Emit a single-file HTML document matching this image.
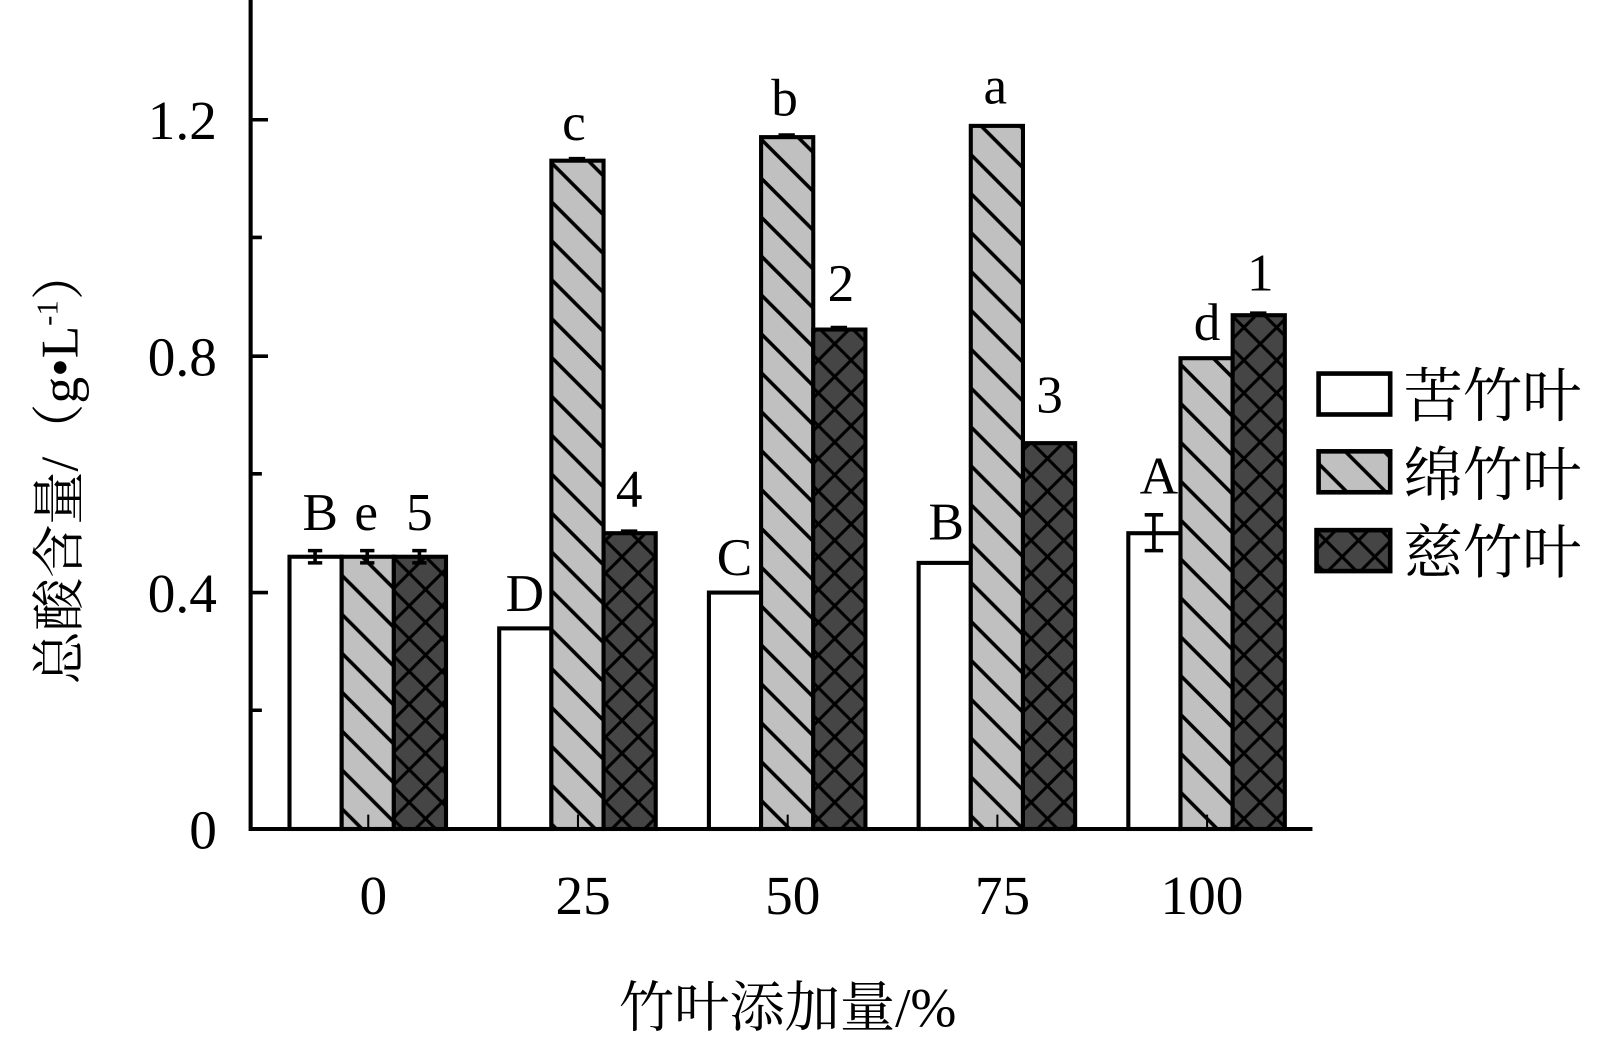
<!DOCTYPE html>
<html><head><meta charset="utf-8"><style>html,body{margin:0;padding:0;background:#fff}svg{display:block}</style></head>
<body>
<svg width="1604" height="1048" viewBox="0 0 1568 1024" preserveAspectRatio="none" xmlns="http://www.w3.org/2000/svg" font-family="Liberation Serif, Noto Serif CJK SC, serif">
<defs>
<pattern id="hg" patternUnits="userSpaceOnUse" width="38" height="38">
<rect width="38" height="38" fill="#c0c0c0"/>
<path d="M-5,-5 L43,43 M-5,33 L5,43 M33,-5 L43,5" stroke="#000" stroke-width="3.5"/>
</pattern>
<pattern id="hd" patternUnits="userSpaceOnUse" width="32" height="32">
<rect width="32" height="32" fill="#454545"/>
<path d="M-3,-3 L35,35 M35,-3 L-3,35 M-3,29 L3,35 M29,-3 L35,3 M-3,3 L3,-3 M29,35 L35,29" stroke="#000" stroke-width="3"/>
</pattern>
</defs>
<g stroke="#000" stroke-width="4">
<rect x="283" y="544" width="51" height="266" fill="#fff"/>
<rect x="334" y="544" width="51" height="266" fill="url(#hg)"/>
<rect x="385" y="544" width="51" height="266" fill="url(#hd)"/>
<rect x="488" y="614" width="51" height="196" fill="#fff"/>
<rect x="539" y="157" width="51" height="653" fill="url(#hg)"/>
<rect x="590" y="521" width="51" height="289" fill="url(#hd)"/>
<rect x="693" y="579" width="51" height="231" fill="#fff"/>
<rect x="744" y="134" width="51" height="676" fill="url(#hg)"/>
<rect x="795" y="322" width="51" height="488" fill="url(#hd)"/>
<rect x="898" y="550" width="51" height="260" fill="#fff"/>
<rect x="949" y="123" width="51" height="687" fill="url(#hg)"/>
<rect x="1000" y="433" width="51" height="377" fill="url(#hd)"/>
<rect x="1103" y="521" width="51" height="289" fill="#fff"/>
<rect x="1154" y="350" width="51" height="460" fill="url(#hg)"/>
<rect x="1205" y="308" width="51" height="502" fill="url(#hd)"/>
<path d="M308,538V550M301,538H315M301,550H315 M359,538V550M352,538H366M352,550H366 M410,538V550M403,538H417M403,550H417
M1128,503V538M1119,503H1137M1119,538H1137 M1230,306V309M1222,306H1238 M820,320V323M812,320H828 M769,132V135M761,132H777 M564,155V158M556,155H572 M615,519V522M607,519H623" fill="none" stroke-width="3.5"/>
<path d="M245,0V810H1283" fill="none"/>
<path d="M245,117H262M245,348H262M245,579H262M245,232H256M245,463H256M245,694H256" fill="none" stroke-width="3.5"/>
<path d="M360,810V796M565,810V796M770,810V796M975,810V796M1180,810V796" fill="none" stroke-width="2"/>
<rect x="1289" y="365" width="70" height="40" fill="#fff" stroke-width="4.5"/>
<rect x="1289" y="441" width="70" height="40" fill="url(#hg)" stroke-width="4.5"/>
<rect x="1287" y="518" width="72" height="40" fill="url(#hd)" stroke-width="4.5"/>
</g>
<g font-size="54" fill="#000" text-anchor="end">
<text x="212" y="829">0</text><text x="212" y="598">0.4</text><text x="212" y="367">0.8</text><text x="212" y="136">1.2</text>
</g>
<g font-size="54" fill="#000" text-anchor="middle">
<text x="365" y="893">0</text><text x="570" y="893">25</text><text x="775" y="893">50</text><text x="980" y="893">75</text><text x="1175" y="893">100</text>
</g>
<g font-size="52" fill="#000" text-anchor="middle">
<text x="313" y="518">B</text><text x="358" y="518">e</text><text x="410" y="518">5</text>
<text x="513" y="597">D</text><text x="561" y="137">c</text><text x="615" y="495">4</text>
<text x="718" y="562">C</text><text x="767" y="113">b</text><text x="822" y="294">2</text>
<text x="925" y="527">B</text><text x="973" y="101">a</text><text x="1026" y="403">3</text>
<text x="1133" y="482">A</text><text x="1180" y="332">d</text><text x="1232" y="284">1</text>
</g>
<g font-size="58" fill="#000">
<text x="1372" y="407">苦竹叶</text><text x="1372" y="484">绵竹叶</text><text x="1372" y="560">慈竹叶</text>
</g>
<text x="770" y="1003" font-size="54" text-anchor="middle">竹叶添加量/%</text>
<text transform="translate(76,455) rotate(-90)" font-size="52" text-anchor="middle">总酸含量/（g•L<tspan font-size="30" dy="-20">-1</tspan><tspan dy="20">）</tspan></text>
</svg>
</body></html>
